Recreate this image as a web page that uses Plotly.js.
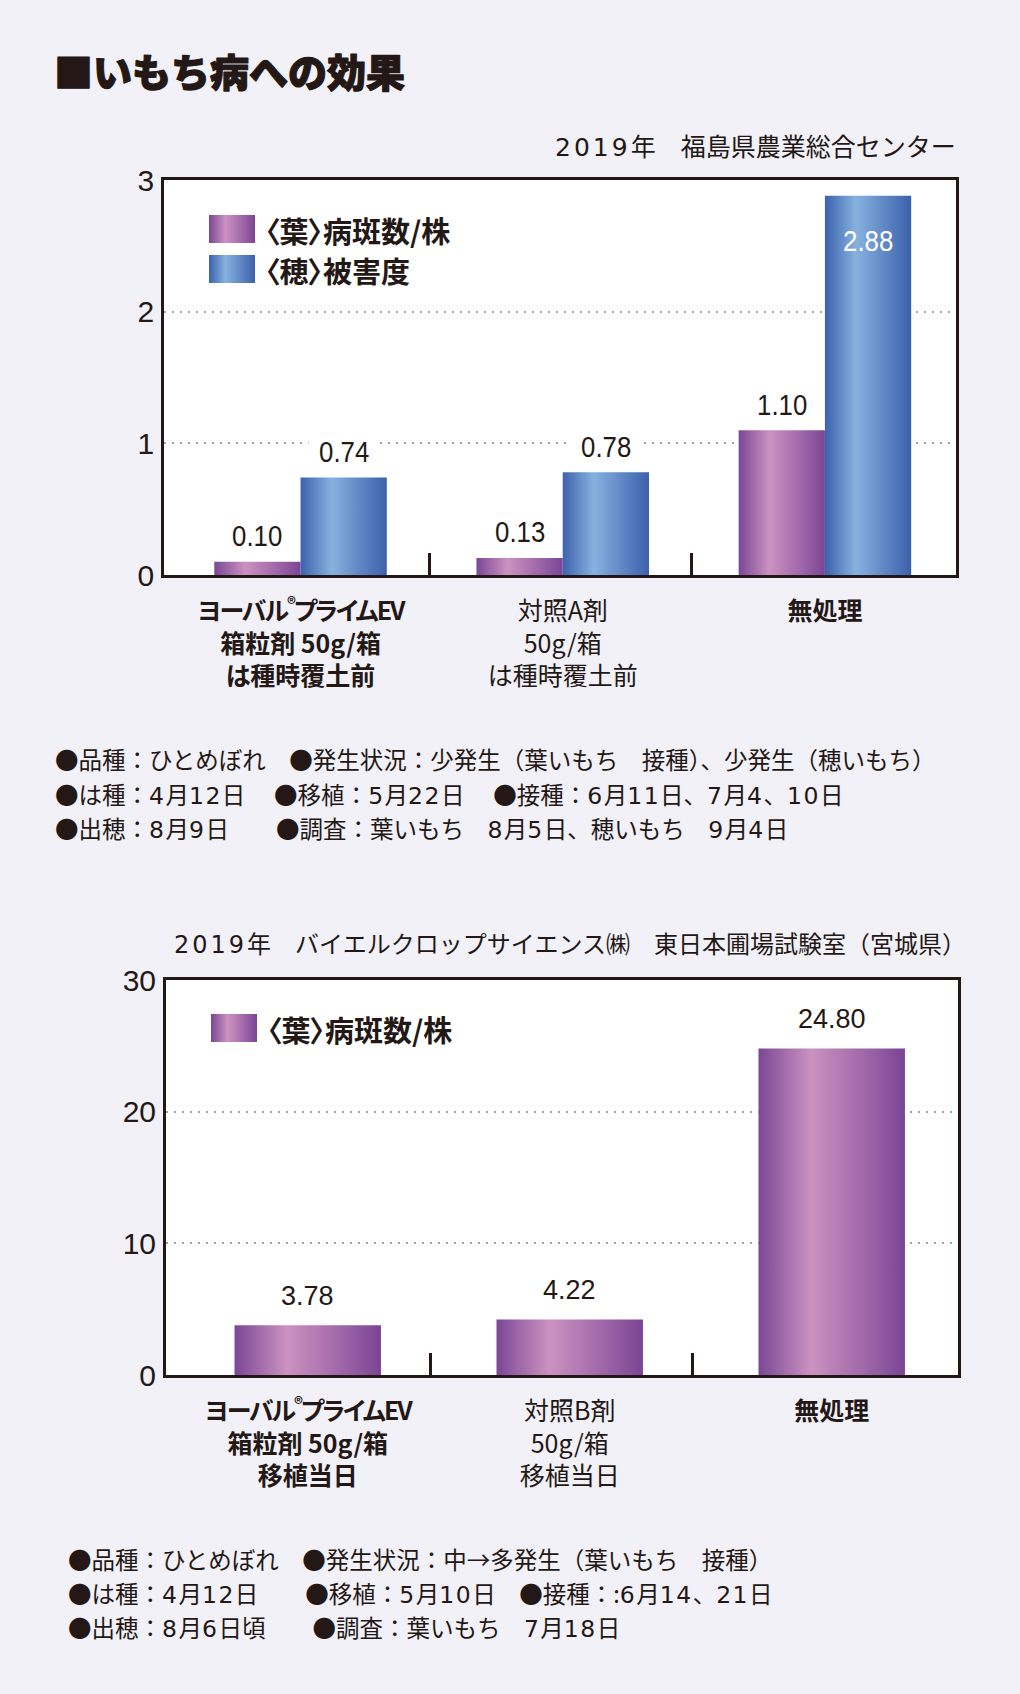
<!DOCTYPE html>
<html>
<head>
<meta charset="utf-8">
<script src="https://cdn.plot.ly/plotly-3.0.1.min.js"></script>
<style>
  html, body { margin: 0; padding: 0; background: #f2f1f8; }
  #chart { width: 1020px; height: 1694px; }
  .xtick text, .x2tick text { font-feature-settings: "palt" 1; }
</style>
</head>
<body>
<div id="chart"></div>
<script>
// ---------------- data ----------------
const pageTitle = '■いもち病への効果';

const source1 = '2019年　福島県農業総合センター';
const categories1 = [
  ['ヨーバル®プライムEV', '箱粒剤 50g/箱', 'は種時覆土前'],
  ['対照A剤', '50g/箱', 'は種時覆土前'],
  ['無処理']
];
const seriesNames1 = ['〈葉〉病斑数/株', '〈穂〉被害度'];
const leafLesions1 = [0.10, 0.13, 1.10];
const panicleDamage1 = [0.74, 0.78, 2.88];
const yTicks1 = [0, 1, 2, 3];
const notes1 = [
  '●品種：ひとめぼれ　●発生状況：少発生（葉いもち　接種）、少発生（穂いもち）',
  '●は種：4月12日　 ●移植：5月22日　 ●接種：6月11日、7月4、10日',
  '●出穂：8月9日　　●調査：葉いもち　8月5日、穂いもち　9月4日'
];

const source2 = '2019年　バイエルクロップサイエンス㈱　東日本圃場試験室（宮城県）';
const categories2 = [
  ['ヨーバル®プライムEV', '箱粒剤 50g/箱', '移植当日'],
  ['対照B剤', '50g/箱', '移植当日'],
  ['無処理']
];
const seriesNames2 = ['〈葉〉病斑数/株'];
const leafLesions2 = [3.78, 4.22, 24.80];
const yTicks2 = [0, 10, 20, 30];
const notes2 = [
  '●品種：ひとめぼれ　●発生状況：中→多発生（葉いもち　接種）',
  '●は種：4月12日　　●移植：5月10日　●接種：:6月14、21日',
  '●出穂：8月6日頃　　●調査：葉いもち　7月18日'
];

// ---------------- styling ----------------
const W = 1020, H = 1694;
const pxX = v => v / W;
const pxY = v => 1 - v / H;
const INK = '#231815';
const JP = '"Noto Sans CJK JP", "Noto Sans", sans-serif';
const NUM = '"Liberation Sans", Arial, sans-serif';
const PURPLE = '#a064aa';
const BLUE = '#5a82c8';
const BARGAP1 = 0.342;
const BARW2 = 0.559;

// wider digits inside Japanese running text
const wideDigits = (t, ls) => t.replace(/(\d+)/g,
  '<span style="font-family:DejaVu Sans;letter-spacing:' + (ls || 0) + 'px">$1</span>');

function tickText(cats) {
  return cats.map((lines, i) => {
    const t = lines.map(l => l.includes('®')
      ? '<span style="letter-spacing:-2px">' + l.replace('®', '<sup>®</sup>') + '</span>'
      : l).join('<br>');
    return i === 1 ? t : '<b>' + t + '</b>';
  });
}

function xAxis(domain, range, cats, seps, anchor) {
  return {
    domain, range, anchor, type: 'linear',
    tickmode: 'array', tickvals: cats.map((_, i) => i), ticktext: tickText(cats),
    ticks: '', showgrid: false, zeroline: false,
    showline: true, mirror: true, linewidth: 3, linecolor: INK,
    tickfont: { family: JP, size: 25, color: INK },
    ticklabelstandoff: 12,
    minor: { tickmode: 'array', tickvals: seps, ticks: 'inside', ticklen: 22, tickwidth: 3, tickcolor: INK, showgrid: false },
    fixedrange: true
  };
}
function yAxis(domain, range, ticks, anchor) {
  return {
    domain, range, anchor,
    tickmode: 'array', tickvals: ticks, ticks: '',
    showgrid: true, gridcolor: '#a3a3a3', gridwidth: 2, griddash: '2px,6px',
    zeroline: false, showline: true, mirror: true, linewidth: 3, linecolor: INK,
    tickfont: { family: NUM, size: 30, color: INK },
    ticklabelstandoff: 1,
    fixedrange: true
  };
}

const idx1 = categories1.map((_, i) => i);
const idx2 = categories2.map((_, i) => i);

const traces = [
  { type: 'bar', x: idx1, y: leafLesions1, name: seriesNames1[0], xaxis: 'x', yaxis: 'y',
    marker: { color: PURPLE, line: { width: 0 } }, hoverinfo: 'skip', showlegend: false },
  { type: 'bar', x: idx1, y: panicleDamage1, name: seriesNames1[1], xaxis: 'x', yaxis: 'y',
    marker: { color: BLUE, line: { width: 0 } }, hoverinfo: 'skip', showlegend: false },
  { type: 'bar', x: idx2, y: leafLesions2, name: seriesNames2[0], xaxis: 'x2', yaxis: 'y2',
    width: BARW2, marker: { color: PURPLE, line: { width: 0 } }, hoverinfo: 'skip', showlegend: false }
];

const annotations = [];
const shapes = [];
const paltIdx = [];      // annotations drawn with proportional CJK metrics
const condensedIdx = []; // annotations drawn horizontally condensed
const heavyIdx = [];     // annotations drawn extra heavy

// title & sources
heavyIdx.push(annotations.length);
annotations.push({ xref: 'paper', yref: 'paper', x: pxX(52), y: pxY(70), xanchor: 'left', yanchor: 'middle',
  text: pageTitle, showarrow: false, font: { family: JP, size: 39, weight: 900, color: INK } });
annotations.push({ xref: 'paper', yref: 'paper', x: pxX(958), y: pxY(145), xanchor: 'right', yanchor: 'middle',
  text: wideDigits(source1, 3), showarrow: false, font: { family: JP, size: 25, color: INK } });
annotations.push({ xref: 'paper', yref: 'paper', x: pxX(968), y: pxY(942), xanchor: 'right', yanchor: 'middle',
  text: wideDigits(source2, 3), showarrow: false, font: { family: JP, size: 24, color: INK } });

// notes
const noteY1 = [759, 794, 828];
notes1.forEach((t, i) => annotations.push({ xref: 'paper', yref: 'paper', x: pxX(53), y: pxY(noteY1[i]),
  xanchor: 'left', yanchor: 'middle', text: wideDigits(t, 1.5), showarrow: false, font: { family: JP, size: 23.5, color: INK } }));
const noteY2 = [1559, 1593, 1627];
notes2.forEach((t, i) => annotations.push({ xref: 'paper', yref: 'paper', x: pxX(66), y: pxY(noteY2[i]),
  xanchor: 'left', yanchor: 'middle', text: wideDigits(t, 1.5), showarrow: false, font: { family: JP, size: 23.5, color: INK } }));

// custom legends
function legendItem(x0, y0, color, label) {
  shapes.push({ type: 'rect', xref: 'paper', yref: 'paper', x0: pxX(x0), x1: pxX(x0 + 46),
    y0: pxY(y0 + 28), y1: pxY(y0), fillcolor: color, line: { width: 0 }, layer: 'above' });
  paltIdx.push(annotations.length);
  annotations.push({ xref: 'paper', yref: 'paper', x: pxX(x0 + 54), y: pxY(y0 + 15), xanchor: 'left', yanchor: 'middle',
    align: 'left', text: '<b>' + label + '</b>', showarrow: false, font: { family: JP, size: 29, color: INK } });
}
legendItem(209, 215, PURPLE, seriesNames1[0]);
legendItem(209, 255, BLUE, seriesNames1[1]);
legendItem(211, 1014, PURPLE, seriesNames2[0]);

// value labels
const half1 = (1 - BARGAP1) / 4;
leafLesions1.forEach((v, i) => {
  condensedIdx.push(annotations.length);
  annotations.push({ xref: 'x', yref: 'y', x: i - half1, y: v, yanchor: 'middle', yshift: 26,
    text: v.toFixed(2), showarrow: false, bgcolor: 'white', borderpad: 6, font: { family: NUM, size: 30, color: INK } });
});
panicleDamage1.forEach((v, i) => {
  const inside = v > 2.5;
  condensedIdx.push(annotations.length);
  annotations.push({ xref: 'x', yref: 'y', x: i + half1, y: v, yanchor: 'middle', yshift: inside ? -45 : 26,
    text: v.toFixed(2), showarrow: false, bgcolor: inside ? 'rgba(0,0,0,0)' : 'white', borderpad: 6,
    font: { family: NUM, size: 30, color: inside ? 'white' : INK } });
});
leafLesions2.forEach((v, i) => annotations.push({ xref: 'x2', yref: 'y2', x: i, y: v, yanchor: 'middle', yshift: 29,
  text: v.toFixed(2), showarrow: false, font: { family: NUM, size: 27, color: INK } }));

const layout = {
  width: W, height: H, autosize: false,
  margin: { l: 0, r: 0, t: 0, b: 0, pad: 0 },
  paper_bgcolor: '#f2f1f8', plot_bgcolor: 'white',
  showlegend: false,
  barmode: 'group', bargap: BARGAP1, bargroupgap: 0,
  xaxis: xAxis([pxX(164.2), pxX(956)], [-0.52, 2.5], categories1, [0.49, 1.49], 'y'),
  yaxis: yAxis([pxY(575), pxY(180)], [0, 3], yTicks1, 'x'),
  xaxis2: xAxis([pxX(166), pxX(958)], [-0.541, 2.482], categories2, [0.47, 1.47], 'y2'),
  yaxis2: yAxis([pxY(1375), pxY(980)], [0, 30], yTicks2, 'x2'),
  annotations, shapes
};

function finishing(gd) {
  const NS = 'http://www.w3.org/2000/svg';
  const svg = gd.querySelector('.main-svg');
  let defs = svg.querySelector('defs');
  if (!defs) { defs = document.createElementNS(NS, 'defs'); svg.insertBefore(defs, svg.firstChild); }
  function grad(id, stops) {
    const g = document.createElementNS(NS, 'linearGradient');
    g.setAttribute('id', id);
    g.setAttribute('x1', '0'); g.setAttribute('x2', '1'); g.setAttribute('y1', '0'); g.setAttribute('y2', '0');
    stops.forEach(([o, c]) => {
      const s = document.createElementNS(NS, 'stop');
      s.setAttribute('offset', o); s.setAttribute('stop-color', c);
      g.appendChild(s);
    });
    defs.appendChild(g);
  }
  grad('gPurple', [[0, '#7b4795'], [0.36, '#cb92c1'], [0.7, '#a36aab'], [1, '#7a4593']]);
  grad('gBlue', [[0, '#3c62ad'], [0.36, '#86b2df'], [0.7, '#5f86c4'], [1, '#3b61ac']]);
  const purpleRGB = 'rgb(160, 100, 170)';
  const blueRGB = 'rgb(90, 130, 200)';
  gd.querySelectorAll('path').forEach(p => {
    const f = p.style.fill;
    if (f === purpleRGB) p.style.fill = 'url(#gPurple)';
    else if (f === blueRGB) p.style.fill = 'url(#gBlue)';
  });
  const annText = k => gd.querySelector('.annotation[data-index="' + k + '"] text');
  paltIdx.forEach(k => { const t = annText(k); if (t) t.style.fontFeatureSettings = '"palt" 1'; });
  condensedIdx.forEach(k => {
    const t = annText(k);
    if (t) {
      t.style.transformBox = 'fill-box';
      t.style.transformOrigin = 'center';
      t.style.transform = 'scaleX(0.86)';
    }
  });
  heavyIdx.forEach(k => {
    const t = annText(k);
    if (t) { t.style.stroke = INK; t.style.strokeWidth = '1.2px'; t.style.strokeLinejoin = 'round'; }
  });
}

Plotly.newPlot('chart', traces, layout, { staticPlot: true, displayModeBar: false })
  .then(gd => finishing(gd));
</script>
</body>
</html>
